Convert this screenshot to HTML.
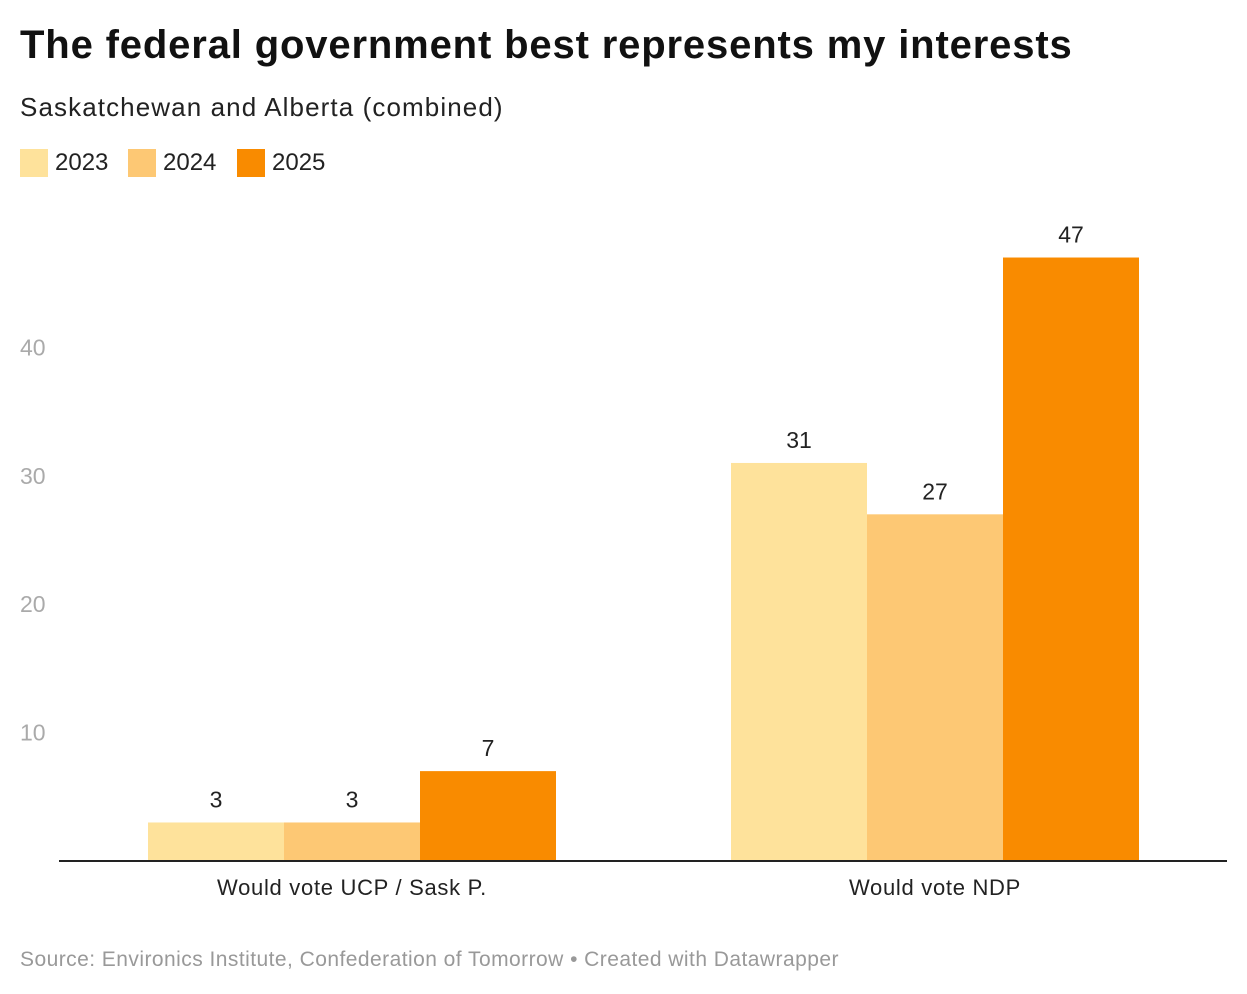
<!DOCTYPE html>
<html><head><meta charset="utf-8">
<style>
body{margin:0;width:1247px;height:994px;background:#fff;font-family:"Liberation Sans",sans-serif;overflow:hidden;position:relative}
.t{position:absolute;white-space:nowrap}
</style></head><body>
<div class="t" style="left:20px;top:23px;font-size:40px;font-weight:bold;color:#111;letter-spacing:0.85px">The federal government best represents my interests</div>
<div class="t" style="left:20px;top:92px;font-size:26px;color:#222;letter-spacing:1.1px">Saskatchewan and Alberta (combined)</div>
<div>
<div style="position:absolute;left:20px;top:149px;width:28px;height:28px;background:#fee29b"></div>
<div class="t" style="left:55px;top:149px;font-size:24px;color:#222">2023</div>
<div style="position:absolute;left:128px;top:149px;width:28px;height:28px;background:#fdc874"></div>
<div class="t" style="left:163px;top:149px;font-size:24px;color:#222">2024</div>
<div style="position:absolute;left:237px;top:149px;width:28px;height:28px;background:#f98b00"></div>
<div class="t" style="left:272px;top:149px;font-size:24px;color:#222">2025</div>
</div>
<svg id="chart" width="1247" height="994" style="position:absolute;left:0;top:0"></svg>
<div class="t" style="left:20px;top:948px;font-size:21px;color:#999;letter-spacing:0.45px">Source: Environics Institute, Confederation of Tomorrow • Created with Datawrapper</div>
<script>
const categories=["Would vote UCP / Sask P.","Would vote NDP"];
const years=["2023","2024","2025"];
const v2023=[3,31];
const v2024=[3,27];
const v2025=[7,47];
const ticks=[10,20,30,40];
const series=[v2023,v2024,v2025];
const colors=["#fee29b","#fdc874","#f98b00"];
const NS="http://www.w3.org/2000/svg";
const svg=document.getElementById("chart");
const y0=861,pxPer=12.84;
const y=v=>y0-v*pxPer;
const groupX=[148,731],bw=136;
function mk(tag,attrs){const e=document.createElementNS(NS,tag);for(const k in attrs)e.setAttribute(k,attrs[k]);svg.appendChild(e);return e;}
ticks.forEach(t=>{const e=mk("text",{x:20,y:y(t)+8,"font-size":23,fill:"#aaa","font-family":"Liberation Sans, sans-serif"});e.textContent=t;

});
categories.forEach((c,i)=>{
 series.forEach((s,j)=>{
  const x=groupX[i]+j*bw;
  const r=mk("rect",{x:x,y:y(s[i]),width:bw,height:s[i]*pxPer,fill:colors[j]});
  
  
  const tx=mk("text",{x:x+bw/2,y:y(s[i])-15,"font-size":23,fill:"#222","text-anchor":"middle","font-family":"Liberation Sans, sans-serif"});
  tx.textContent=s[i];
  
  
 });
 const cl=mk("text",{x:groupX[i]+bw*1.5,y:895,"font-size":22,fill:"#222","text-anchor":"middle","letter-spacing":"0.7","font-family":"Liberation Sans, sans-serif"});
 cl.textContent=c;
 
 
});
const ax=mk("line",{x1:59,x2:1227,y1:y0,y2:y0,stroke:"#222","stroke-width":2});


</script>
</body></html>
